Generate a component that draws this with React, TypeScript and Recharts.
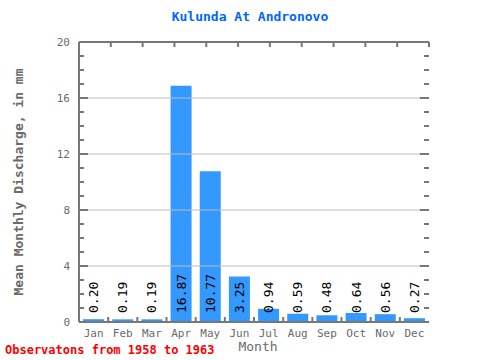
import { BarChart, Bar, XAxis, YAxis, ReferenceLine, LabelList } from "recharts";

const months = ["Jan", "Feb", "Mar", "Apr", "May", "Jun", "Jul", "Aug", "Sep", "Oct", "Nov", "Dec"];
const discharge = [0.2, 0.19, 0.19, 16.87, 10.77, 3.25, 0.94, 0.59, 0.48, 0.64, 0.56, 0.27];
const majorTicks = [0, 4, 8, 12, 16, 20];
const minorTicks = [0, 1, 2, 3, 4, 5, 6, 7, 8, 9, 10, 11, 12, 13, 14, 15, 16, 17, 18, 19, 20];
const gridValues = [4, 8, 12, 16];
const boundaries = [0, 1, 2, 3, 4, 5, 6, 7, 8, 9, 10, 11, 12];

const data = months.map((m, i) => ({ month: m, value: discharge[i] }));

const W = 480;
const H = 360;
const M = { top: 41, right: 51, bottom: 8, left: 19 };
const Y_W = 60;
const PLOT_W = W - M.left - Y_W - M.right;
const PLOT_R = M.left + Y_W + PLOT_W;
const BAND = PLOT_W / months.length;
const AXIS = "#777777";
const TEXT = "#6a6a6a";
const FONT = "'DejaVu Sans Mono', monospace";

// left tick: inner tick on both borders + label for major values
const LeftTick = (p: any) => {
  const major = majorTicks.includes(p.payload.value);
  const len = major ? 9 : 5;
  const rx = p.x + PLOT_W;
  return (
    <g>
      <line x1={p.x} y1={p.y} x2={p.x + len} y2={p.y} stroke={AXIS} strokeWidth={2} />
      <line x1={rx} y1={p.y} x2={rx - len} y2={p.y} stroke={AXIS} strokeWidth={2} />
      {major && (
        <text x={p.x - 9} y={p.y + 4} textAnchor="end" fill={TEXT} fontSize={11} fontFamily={FONT}>
          {p.payload.value}
        </text>
      )}
    </g>
  );
};

const TopTick = (p: any) => {
  if (p.x > PLOT_R + 1) return <g />;
  return (
    <g>
      <line x1={p.x} y1={p.y} x2={p.x} y2={p.y + 5} stroke={AXIS} strokeWidth={2} />
    </g>
  );
};

const MonthTick = (p: any) => (
  <g>
    <line x1={p.x - BAND / 2} y1={p.y} x2={p.x - BAND / 2} y2={p.y - 5} stroke={AXIS} strokeWidth={2} />
    <text x={p.x} y={p.y + 15} textAnchor="middle" fill={TEXT} fontSize={11} fontFamily={FONT}>
      {p.payload.value}
    </text>
  </g>
);

const ValueLabel = (p: any) => {
  const cx = p.x + p.width / 2;
  const by = p.y + p.height - 9;
  return (
    <text
      x={cx}
      y={by}
      transform={`rotate(-90, ${cx}, ${by})`}
      textAnchor="start"
      dominantBaseline="central"
      fill="#000"
      fontSize={13}
      fontFamily={FONT}
    >
      {Number(p.value).toFixed(2)}
    </text>
  );
};

export default function App() {
  return (
    <div style={{ position: "absolute", left: 0, top: 0, width: W, height: H, background: "#fff" }}>
      <div
        style={{
          position: "absolute",
          left: 70,
          width: 360,
          top: 9,
          textAlign: "center",
          color: "#0066ff",
          fontFamily: FONT,
          fontWeight: "bold",
          fontSize: 13,
        }}
      >
        Kulunda At Andronovo
      </div>
      <BarChart width={W} height={H} data={data} margin={M} barCategoryGap="14%">
        <XAxis
          xAxisId="top"
          orientation="top"
          type="number"
          domain={[0, 12]}
          ticks={boundaries}
          interval={0}
          height={1}
          tickSize={0}
          tickMargin={0}
          tickLine={false}
          axisLine={{ stroke: AXIS, strokeWidth: 2 }}
          tick={TopTick}
        />
        <XAxis
          dataKey="month"
          height={30}
          interval={0}
          tickSize={0}
          tickMargin={0}
          tickLine={false}
          axisLine={{ stroke: AXIS, strokeWidth: 2 }}
          tick={MonthTick}
          label={{
            value: "Month",
            position: "insideBottom",
            offset: 1,
            dx: 4,
            fill: TEXT,
            fontSize: 13,
            fontFamily: FONT,
          }}
        />
        <YAxis
          width={Y_W}
          domain={[0, 20]}
          ticks={minorTicks}
          interval={0}
          tickSize={0}
          tickMargin={0}
          tickLine={false}
          axisLine={{ stroke: AXIS, strokeWidth: 2 }}
          tick={LeftTick}
          label={{
            value: "Mean Monthly Discharge, in mm",
            angle: -90,
            position: "center",
            dx: -31,
            fill: TEXT,
            fontSize: 13,
            fontFamily: FONT,
            fontWeight: "bold",
          }}
        />
        {gridValues.map((v) => (
          <ReferenceLine key={v} y={v} stroke="#bbbbbb" />
        ))}
        <ReferenceLine xAxisId="top" x={12} stroke={AXIS} strokeWidth={2} />
        <Bar dataKey="value" fill="#3399ff" isAnimationActive={false}>
          <LabelList dataKey="value" content={ValueLabel} />
        </Bar>
      </BarChart>
      <div
        style={{
          position: "absolute",
          left: 5,
          top: 343,
          color: "#ff0000",
          fontFamily: FONT,
          fontWeight: "bold",
          fontSize: 12,
          whiteSpace: "nowrap",
        }}
      >
        Observatons from 1958 to 1963
      </div>
    </div>
  );
}
